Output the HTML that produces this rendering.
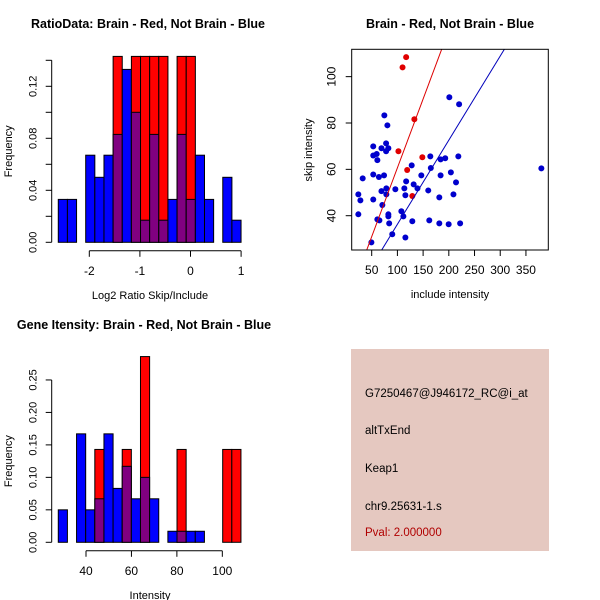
<!DOCTYPE html>
<html><head><meta charset="utf-8"><style>
body{margin:0;background:#fff}
svg{display:block;font-family:"Liberation Sans",sans-serif}
</style></head><body>
<svg id="c" width="600" height="600" viewBox="0 0 600 600">
<rect x="0" y="0" width="600" height="600" fill="#fff"/>
<g id="p1"></g>
<g id="p2"></g>
<g id="p3"></g>
<g>
<rect x="351" y="349" width="198" height="202" fill="#e5c8c0"/>
<g font-size="11.5" fill="#000">
<text x="365" y="397">G7250467@J946172_RC@i_at</text>
<text x="365" y="434">altTxEnd</text>
<text x="365" y="472">Keap1</text>
<text x="365" y="510">chr9.25631-1.s</text>
<text x="365" y="536" fill="#b00000">Pval: 2.000000</text>
</g></g>
</svg>
<script>
// ---- Histogram 1 data ----
const h1Start = -2.613, h1Width = 0.1806;
const h1Blue = [0.033,0.033,0,0.067,0.05,0.067,0.083,0.133,0.1,0.017,0.083,0.017,0.033,0.083,0.033,0.067,0.033,0,0.05,0.017];
const h1Red  = [0,0,0,0,0,0,0.143,0,0.143,0.143,0.143,0.143,0,0.143,0.143,0,0,0,0,0];
const h1YTicks = [0,0.04,0.08,0.12];
const h1YMinor = [0,0.02,0.04,0.06,0.08,0.10,0.12,0.14];
const h1XTicks = [-2,-1,0,1];
// ---- Histogram 3 data ----
const h3Start = 27.8, h3Width = 4.02;
const h3Blue = [0.05,0,0.167,0.05,0.067,0.167,0.083,0.117,0.067,0.1,0.067,0,0.017,0.017,0.017,0.017,0,0,0,0];
const h3Red  = [0,0,0,0,0.143,0,0,0.143,0,0.286,0,0,0,0.143,0,0,0,0,0.143,0.143];
const h3YTicks = [0,0.05,0.10,0.15,0.20,0.25];
const h3XTicks = [40,60,80,100];
// ---- Scatter data ----
const redX = [117,110,133,102,148.5,119,129];
const redY = [108.4,104,81.6,67.8,65.2,59.7,48.5];
const blueX = [74.6,80.5,201,220,53,78,69,82.4,78,53,59.7,61,32.5,53,64,74,127.8,164,184,193,218.5,165,146.5,184,204,214,117,131.6,139,113.5,96,78.5,69,160,115.5,78.5,24,28,53,181.5,209,70.7,107.7,111.6,82.4,82.4,24,61,65,84,129,162,181.5,199.7,222,90,115.5,49.4,380];
const blueY = [83.3,79,91.1,88.1,69.9,71.2,69.1,69.1,67.8,66,66.6,64,56.1,57.8,56.7,57.4,61.7,65.6,64.3,64.8,65.6,60.6,57.4,57.4,58.7,54.4,54.8,53.5,51.8,51.8,51.4,51.8,50.6,50.9,48.8,49.2,49.2,46.6,47,47.9,49.2,44.6,41.9,39.7,40.6,39.7,40.6,38.4,38,36.7,37.6,38,36.7,36.3,36.7,32,30.6,28.5,60.4];
const fitRed = [1.26, 0.594];   // intercept, slope
const fitBlue = [0.0, 0.363];
const sXTicks = [50,100,150,200,250,300,350];
const sYTicks = [40,60,80,100];

const NS='http://www.w3.org/2000/svg';
function mk(parent,tag,attrs,txt){const e=document.createElementNS(NS,tag);for(const k in attrs)e.setAttribute(k,attrs[k]);if(txt!==undefined)e.textContent=txt;parent.appendChild(e);return e;}

function hist(g,o){
  const xs=v=>o.x0px+(v-o.x0)*o.xk, ys=v=>o.y0px-v*o.yk;
  const n=o.blue.length;
  for(let i=0;i<n;i++){
    const l=xs(o.start+i*o.w), r=xs(o.start+(i+1)*o.w);
    const b=o.blue[i], rd=o.red[i];
    if(rd>0){const e=mk(g,'rect',{x:l,y:ys(rd),width:r-l,height:ys(0)-ys(rd),fill:'#ff0000',stroke:'#000','stroke-width':1});
      
      }
    if(b>0){
      const e=mk(g,'rect',{x:l,y:ys(b),width:r-l,height:ys(0)-ys(b),fill:(rd>0?'#800080':'#0000ff'),stroke:'#000','stroke-width':1});
      
      }
  }
  const xa=51.7; // y axis x
  mk(g,'line',{x1:xa,x2:xa,y1:ys(0),y2:ys(o.yTop),stroke:'#000'});
  for(const t of o.yMinor){mk(g,'line',{x1:xa-6,x2:xa,y1:ys(t),y2:ys(t),stroke:'#000'});}
  for(const t of o.yTicks){const yy=ys(t);
    const e=mk(g,'text',{x:0,y:0,transform:`translate(${xa-15},${yy}) rotate(-90)`,'text-anchor':'middle','font-size':11},t.toFixed(2));
    
    }
  const ya=ys(0)+8.5;
  mk(g,'line',{x1:xs(o.xTicks[0]),x2:xs(o.xTicks[o.xTicks.length-1]),y1:ya,y2:ya,stroke:'#000'});
  for(const t of o.xTicks){mk(g,'line',{x1:xs(t),x2:xs(t),y1:ya,y2:ya+6,stroke:'#000'});
    const e=mk(g,'text',{x:xs(t),y:ya+24,'text-anchor':'middle','font-size':12},String(t));
    
    }
  let e=mk(g,'text',{x:o.titleX,y:o.titleY,'text-anchor':'middle','font-size':12.5,'font-weight':'bold'},o.title);
  
  
  e=mk(g,'text',{x:150,y:ya+48,'text-anchor':'middle','font-size':11},o.xlab);
  
  
  e=mk(g,'text',{x:0,y:0,transform:`translate(12,${(ys(0)+ys(o.yTop))/2}) rotate(-90)`,'text-anchor':'middle','font-size':11},'Frequency');
  
  
}
hist(document.getElementById('p1'),{x0:-2,x0px:89.3,xk:50.6,y0px:242.3,yk:1300,start:h1Start,w:h1Width,blue:h1Blue,red:h1Red,yTicks:h1YTicks,yMinor:h1YMinor,yTop:0.14,xTicks:h1XTicks,title:'RatioData: Brain - Red, Not Brain - Blue',titleX:148,titleY:28,xlab:'Log2 Ratio Skip/Include'});
hist(document.getElementById('p3'),{x0:40,x0px:86,xk:2.272,y0px:542.3,yk:649.4,start:h3Start,w:h3Width,blue:h3Blue,red:h3Red,yTicks:h3YTicks,yMinor:h3YTicks,yTop:0.25,xTicks:h3XTicks,title:'Gene Itensity: Brain - Red, Not Brain - Blue',titleX:144,titleY:329,xlab:'Intensity'});

// scatter
(function(){
  const g=document.getElementById('p2');
  const L=351.7,R=548.3,T=49.3,B=250;
  const xmin=11.1,xmax=393.5,ymin=25.2,ymax=111.8;
  const xs=v=>L+(v-xmin)/(xmax-xmin)*(R-L), ys=v=>B-(v-ymin)/(ymax-ymin)*(B-T);
  mk(g,'clipPath',{id:'sc'}).appendChild(document.createElementNS(NS,'rect'));
  const cr=g.querySelector('#sc rect');cr.setAttribute('x',L);cr.setAttribute('y',T);cr.setAttribute('width',R-L);cr.setAttribute('height',B-T);
  for(let i=0;i<blueX.length;i++){const e=mk(g,'circle',{cx:xs(blueX[i]),cy:ys(blueY[i]),r:3,fill:'#0000cd'});
    
    }
  for(let i=0;i<redX.length;i++){const e=mk(g,'circle',{cx:xs(redX[i]),cy:ys(redY[i]),r:3,fill:'#e00000'});
    
    }
  const ln=(f,c,n)=>{const e=mk(g,'line',{x1:xs(xmin),y1:ys(f[0]+f[1]*xmin),x2:xs(xmax),y2:ys(f[0]+f[1]*xmax),stroke:c,'stroke-width':1,'clip-path':'url(#sc)'});
    
    };
  ln(fitRed,'#dd0000','red-fit-line');ln(fitBlue,'#0000bb','blue-fit-line');
  mk(g,'rect',{x:L,y:T,width:R-L,height:B-T,fill:'none',stroke:'#000'});
  for(const t of sXTicks){mk(g,'line',{x1:xs(t),x2:xs(t),y1:B,y2:B+6,stroke:'#000'});
    const e=mk(g,'text',{x:xs(t),y:B+24,'text-anchor':'middle','font-size':12},String(t));
    
    }
  for(const t of sYTicks){mk(g,'line',{x1:L-6,x2:L,y1:ys(t),y2:ys(t),stroke:'#000'});
    const e=mk(g,'text',{x:0,y:0,transform:`translate(${L-16},${ys(t)}) rotate(-90)`,'text-anchor':'middle','font-size':12},String(t));
    
    }
  let e=mk(g,'text',{x:450,y:28,'text-anchor':'middle','font-size':12.5,'font-weight':'bold'},'Brain - Red, Not Brain - Blue');
  
  
  e=mk(g,'text',{x:450,y:298,'text-anchor':'middle','font-size':11},'include intensity');
  
  
  e=mk(g,'text',{x:0,y:0,transform:`translate(312,150) rotate(-90)`,'text-anchor':'middle','font-size':11},'skip intensity');
  
  
})();
</script>
</body></html>
